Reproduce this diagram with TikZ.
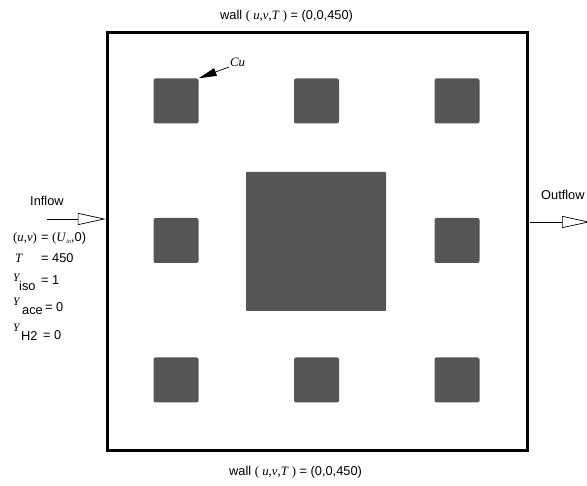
\documentclass[tikz,border=0pt]{standalone}
\usepackage{fontspec}
\setmainfont{Liberation Sans}
\newfontfamily\serif{Liberation Serif}
\usetikzlibrary{arrows.meta}
\definecolor{sqgray}{HTML}{555555}
\tikzset{
  txt/.style={inner sep=0pt, anchor=base west, font=\fontsize{12.8}{14}\selectfont},
  ital/.style={inner sep=0pt, anchor=base west, font=\fontsize{12.8}{14}\serif\itshape},
  ysym/.style={inner sep=0pt, anchor=base west, font=\fontsize{11.5}{12}\serif\itshape},
  block/.style={fill=sqgray, draw=none, rounded corners=2pt, inner sep=0pt, minimum width=45pt, minimum height=45pt},
  bigblock/.style={fill=sqgray, draw=none, rounded corners=1pt, inner sep=0pt, minimum width=140pt, minimum height=139pt},
  wallbox/.style={draw=black, line width=3pt, inner sep=0pt, minimum width=420pt, minimum height=418pt},
  openarrow/.style={line width=0.7pt, -{Triangle[open, length=28pt, width=12pt, fill=white]}},
  cuarrow/.style={line width=0.7pt, -{Triangle[length=18pt, width=8pt]}}
}
\begin{document}
\begin{tikzpicture}[x=1pt,y=-1pt]
\useasboundingbox (0,0) rectangle (587,486);
% domain
\node[wallbox] (box) at (317.25,241.25) {};
% blocks
\node[block] (b11) at (176,101) {};
\node[block] (b12) at (316.5,101) {};
\node[block] (b13) at (457,101) {};
\node[block] (b21) at (176,240.5) {};
\node[block] (b23) at (457,240.5) {};
\node[block] (b31) at (176,380) {};
\node[block] (b32) at (316.5,380) {};
\node[block] (b33) at (457,380) {};
\node[bigblock] (big) at (316,241.5) {};
% wall labels
\node[txt] (walltop) at (220,20) {wall {\serif( \textit{u},\textit{v},\textit{T} )} = (0,0,450)};
\node[txt] (wallbot) at (229,476) {wall {\serif( \textit{u},\textit{v},\textit{T} )} = (0,0,450)};
% Cu label and arrow
\node[ital] (cu) at (230,67) {Cu};
\coordinate (cuS) at (229,67);
\draw[cuarrow] (cuS) -- (b11.north east);
% inflow
\node[txt] (inflow) at (30,206) {Inflow};
\coordinate (inS) at (47,219);
\draw[openarrow] (inS) -- (inS -| box.west);
% outflow
\node[txt] (outflow) at (541,200) {Outflow};
\coordinate (outS) at (530,222);
\coordinate (outE) at (590,222);
\draw[openarrow] (outS) -- (outE);
% inflow conditions
\node[ital] (uv) at (13,242) {{\upshape(}u,v{\upshape)}};
\node[txt] (uvv) at (41,242) {= {\serif(\textit{U}\raisebox{-2pt}{\fontsize{6}{6}\selectfont\textit{in}}},0)};
\node[ital] (tsym) at (15,262.5) {T};
\node[txt] (tval) at (41,262.5) {= 450};
\node[ysym] (y1) at (13,281.5) {Y};
\node[txt] (iso) at (19,290.5) {iso};
\node[txt] (isov) at (41,285) {= 1};
\node[ysym] (y2) at (13,306) {Y};
\node[txt] (ace) at (22,314.5) {ace};
\node[txt] (acev) at (45,312) {= 0};
\node[ysym] (y3) at (13,332) {Y};
\node[txt] (h2) at (21,340.5) {H2};
\node[txt] (h2v) at (43,339.5) {= 0};
\end{tikzpicture}
\end{document}
